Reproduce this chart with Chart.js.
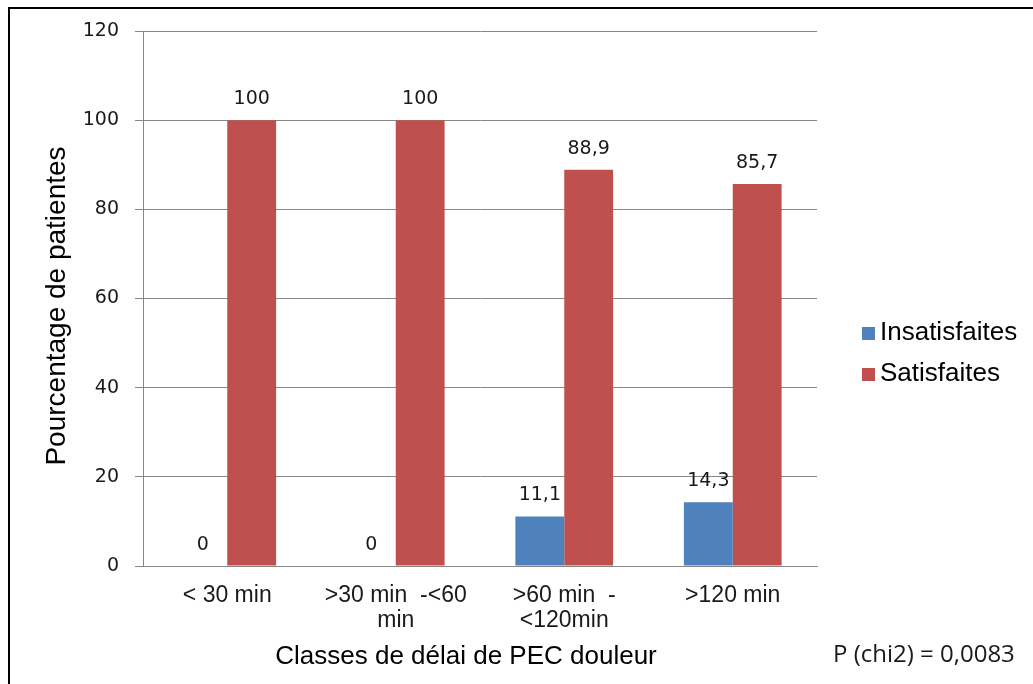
<!DOCTYPE html>
<html>
<head>
<meta charset="utf-8">
<script src="https://cdn.jsdelivr.net/npm/chart.js@4.4.1/dist/chart.umd.min.js"></script>
<style>
  html, body { margin: 0; padding: 0; background: #fff; }
  #wrap { position: relative; width: 1033px; height: 684px; }
</style>
</head>
<body>
<div id="wrap"><canvas id="c" width="1033" height="684"></canvas></div>
<script>
// Delay classes for pain management (x axis categories, multi-line)
const categories = [
  ["< 30 min"],
  [">30 min  -<60", "min"],
  [">60 min  -", "<120min"],
  [">120 min"]
];
// Percentage of patients per class
const insatisfaites = [0, 0, 11.1, 14.3];
const satisfaites = [100, 100, 88.9, 85.7];
const seriesNames = ["Insatisfaites", "Satisfaites"];
const seriesColors = ["#4F81BD", "#C0504D"];
const yMin = 0, yMax = 120, yStep = 20;
const yTitle = "Pourcentage de patientes";
const xTitle = "Classes de délai de PEC douleur";
const noteText = "P (chi2) = 0,0083";

const gridColor = "#878787";

const fmt = v => String(v).replace('.', ',');

const decorations = {
  id: 'decorations',
  beforeDraw(chart) {
    const ctx = chart.ctx;
    ctx.save();
    ctx.fillStyle = '#fff';
    ctx.fillRect(0, 0, chart.width, chart.height);
    ctx.restore();
  },
  afterDraw(chart) {
    const ctx = chart.ctx;
    ctx.save();
    // frame (top and left edges)
    ctx.strokeStyle = '#000';
    ctx.lineWidth = 2;
    ctx.beginPath();
    ctx.moveTo(9, 684);
    ctx.lineTo(9, 8);
    ctx.lineTo(1033, 8);
    ctx.stroke();

    // value labels above each bar
    ctx.fillStyle = '#1a1a1a';
    ctx.font = '19px "DejaVu Sans"';
    ctx.textAlign = 'center';
    ctx.textBaseline = 'middle';
    chart.data.datasets.forEach((ds, di) => {
      const meta = chart.getDatasetMeta(di);
      meta.data.forEach((bar, i) => {
        ctx.fillText(fmt(ds.data[i]), bar.x, bar.y - 21);
      });
    });

    // axis titles
    ctx.fillStyle = '#000';
    ctx.font = '28px "Liberation Sans"';
    ctx.save();
    ctx.translate(57, 306);
    ctx.rotate(-Math.PI / 2);
    ctx.fillText(yTitle, 0, 0);
    ctx.restore();
    ctx.font = '26px "Liberation Sans"';
    ctx.fillText(xTitle, 466, 657);

    // legend
    ctx.textAlign = 'left';
    ctx.font = '26px "Liberation Sans"';
    const legendY = [333, 374];
    chart.data.datasets.forEach((ds, di) => {
      ctx.fillStyle = ds.backgroundColor;
      ctx.fillRect(862, legendY[di] - 6, 13, 13);
      ctx.fillStyle = '#000';
      ctx.fillText(ds.label, 880, legendY[di]);
    });

    // test statistic note
    ctx.font = '24px "Open Sans"';
    ctx.fillStyle = '#1a1a1a';
    ctx.fillText(noteText, 833, 655);
    ctx.restore();
  }
};

new Chart(document.getElementById('c'), {
  type: 'bar',
  data: {
    labels: categories,
    datasets: [
      { label: seriesNames[0], data: insatisfaites, backgroundColor: seriesColors[0] },
      { label: seriesNames[1], data: satisfaites, backgroundColor: seriesColors[1] }
    ]
  },
  options: {
    responsive: false,
    animation: false,
    devicePixelRatio: 1,
    layout: { padding: { left: 0, top: 31, right: 216, bottom: 0 } },
    datasets: { bar: { categoryPercentage: 0.58, barPercentage: 1.0 } },
    plugins: {
      legend: { display: false },
      tooltip: { enabled: false }
    },
    scales: {
      x: {
        afterFit(scale) { scale.height = 118; },
        grid: { display: false, drawTicks: false },
        border: { display: true, color: gridColor, width: 1 },
        ticks: {
          color: '#1a1a1a',
          font: { family: 'Liberation Sans', size: 23, lineHeight: 1.05 },
          padding: 18,
          maxRotation: 0,
          autoSkip: false
        }
      },
      y: {
        min: yMin,
        max: yMax,
        afterFit(scale) { scale.width = 143; },
        grid: { color: gridColor, lineWidth: 1, drawTicks: true, tickLength: 8 },
        border: { display: true, color: gridColor, width: 1 },
        ticks: {
          stepSize: yStep,
          color: '#1a1a1a',
          font: { family: 'DejaVu Sans', size: 19 },
          padding: 16
        }
      }
    }
  },
  plugins: [decorations]
});
</script>
</body>
</html>
